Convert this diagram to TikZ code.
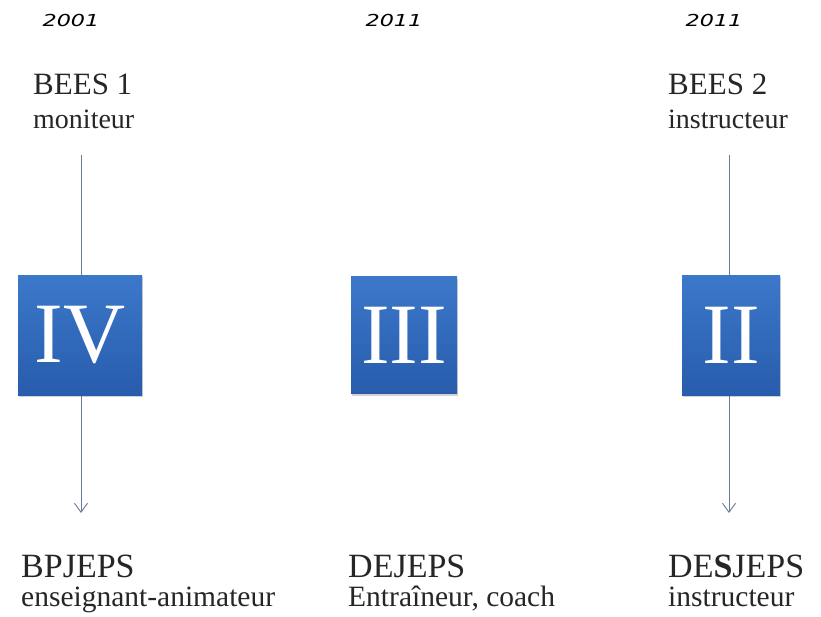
\documentclass[tikz,border=0pt]{standalone}
\usepackage{fontspec}
\setmainfont{Liberation Serif}
\newfontfamily\yearfont{DejaVu Sans}
\usetikzlibrary{arrows.meta,shadows}
\definecolor{lvltop}{RGB}{60,120,202}
\definecolor{lvlbot}{RGB}{40,92,172}
\definecolor{lvlline}{RGB}{105,122,150}
\tikzset{
  year/.style={anchor=base,inner sep=0pt,font=\yearfont\itshape\fontsize{16.5}{18}\selectfont},
  oldtitle/.style={anchor=base west,inner sep=0pt,text=black!85,text depth=0pt,font=\fontsize{31}{34}\selectfont},
  oldrole/.style={anchor=base west,inner sep=0pt,text=black!85,text height=0.6em,font=\fontsize{28}{30}\selectfont},
  newtitle/.style={anchor=base west,inner sep=0pt,text=black!85,text depth=0pt,font=\fontsize{34}{36}\selectfont},
  newrole/.style={anchor=base west,inner sep=0pt,text=black!85,text height=0.6em,font=\fontsize{29.5}{31}\selectfont},
  level/.style={rectangle,inner sep=0pt,top color=lvltop,bottom color=lvlbot,
    text=white,font=\fontsize{86}{86}\selectfont,
    drop shadow={opacity=0.35,shadow xshift=1pt,shadow yshift=-2pt}},
  link/.style={lvlline,line width=0.9pt},
}
\begin{document}
\begin{tikzpicture}[x=1pt,y=-1pt]
\useasboundingbox[fill=white] (0,0) rectangle (821,616);
%years
        \node[year] (y1) at (71,26) {\scalebox{1.35}[1]{2001}};
        \node[year] (y2) at (394,26) {\scalebox{1.35}[1]{2011}};
        \node[year] (y3) at (714,26) {\scalebox{1.35}[1]{2011}};
%old diplomas
        \node[oldtitle] (bees1) at (33,94) {BEES 1};
        \node[oldrole] (mon) at (33,128) {moniteur};
        \node[oldtitle] (bees2) at (668,94) {BEES 2};
        \node[oldrole] (ins) at (668,128) {instructeur};
%links
        \coordinate (s4) at (81,155);
        \coordinate (e4) at (81,513);
        \coordinate (s2) at (729,155);
        \coordinate (e2) at (729,513);
        \draw [link] (s4) -- (81,300);
        \draw [link] (s2) -- (729,300);
        \draw [link, -{Straight Barb[length=9pt,width=13pt]}] (81,370) -- (e4);
        \draw [link, -{Straight Barb[length=9pt,width=13pt]}] (729,370) -- (e2);
%levels
        \node[level,minimum width=124pt,minimum height=120pt] (iv) at (80,335) {IV};
        \node[level,minimum width=106pt,minimum height=117pt] (iii) at (404,335) {III};
        \node[level,minimum width=98pt,minimum height=120pt] (ii) at (731,335) {II};
%new diplomas
        \node[newtitle] (bp) at (21,577) {BPJEPS};
        \node[newrole] (ens) at (21,606) {enseignant-animateur};
        \node[newtitle] (de) at (348,577) {DEJEPS};
        \node[newrole] (ent) at (348,606) {Entraîneur, coach};
        \node[newtitle] (des) at (668,577) {DE\textbf{S}JEPS};
        \node[newrole] (ins2) at (668,606) {instructeur};
    \end{tikzpicture}
\end{document}
